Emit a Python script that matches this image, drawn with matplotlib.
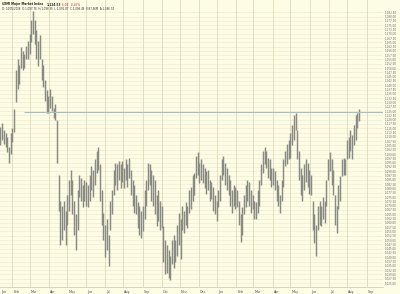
import numpy as np
import pandas as pd
import matplotlib
matplotlib.use('Agg')
import matplotlib.pyplot as plt

# $XMI bars, one bar per two trading days
start_date = '2005-01-12'
axis_end = '2006-09-28'
line_start = '2005-02-18'
line_level = 1124.53

highs = [1116, 1118, 1114, 1112, 1110, 1104, 1112, 1115, 1126, 1149,
         1155, 1152, 1162, 1160, 1158, 1163, 1166, 1170, 1178, 1183,
         1178, 1172, 1166, 1169, 1155, 1152, 1143, 1137, 1134, 1138,
         1134, 1127, 1129, 1120, 1088, 1073, 1070, 1073, 1067, 1076,
         1085, 1091, 1085, 1073, 1065, 1079, 1088, 1086, 1082, 1085,
         1084, 1082, 1088, 1093, 1091, 1097, 1102, 1104, 1094, 1079,
         1066, 1059, 1062, 1053, 1073, 1079, 1091, 1095, 1094, 1096,
         1094, 1096, 1092, 1097, 1094, 1098, 1091, 1085, 1082, 1076,
         1072, 1070, 1067, 1070, 1079, 1085, 1095, 1094, 1091, 1088,
         1085, 1076, 1079, 1073, 1070, 1058, 1050, 1047, 1044, 1041,
         1050, 1053, 1050, 1059, 1066, 1062, 1070, 1067, 1072, 1070,
         1079, 1081, 1088, 1089, 1099, 1101, 1095, 1097, 1094, 1092,
         1090, 1091, 1085, 1084, 1081, 1076, 1073, 1079, 1088, 1097,
         1099, 1095, 1092, 1088, 1085, 1079, 1082, 1081, 1079, 1073,
         1065, 1069, 1076, 1082, 1085, 1084, 1079, 1076, 1073, 1072,
         1079, 1085, 1094, 1102, 1104, 1102, 1098, 1097, 1092, 1092,
         1090, 1085, 1082, 1076, 1085, 1097, 1102, 1106, 1108, 1112,
         1117, 1123, 1124, 1114, 1102, 1092, 1088, 1094, 1097, 1095,
         1091, 1088, 1073, 1065, 1059, 1070, 1073, 1070, 1075, 1073,
         1085, 1097, 1101, 1097, 1091, 1076, 1070, 1082, 1087, 1097,
         1098, 1097, 1108, 1110, 1114, 1111, 1117, 1123, 1124, 1126]

lows = [1105, 1108, 1106, 1104, 1101, 1095, 1100, 1107, 1113, 1130,
        1138, 1141, 1150, 1149, 1150, 1155, 1155, 1158, 1165, 1170,
        1164, 1155, 1151, 1155, 1143, 1139, 1131, 1124, 1124, 1127,
        1125, 1121, 1120, 1095, 1067, 1047, 1050, 1056, 1047, 1059,
        1067, 1076, 1065, 1053, 1044, 1056, 1075, 1073, 1069, 1073,
        1070, 1069, 1073, 1079, 1075, 1082, 1089, 1091, 1073, 1059,
        1050, 1040, 1044, 1035, 1056, 1065, 1076, 1082, 1079, 1085,
        1080, 1084, 1080, 1085, 1081, 1086, 1076, 1070, 1066, 1065,
        1057, 1053, 1051, 1055, 1062, 1070, 1079, 1082, 1073, 1070,
        1065, 1058, 1061, 1056, 1057, 1037, 1030, 1031, 1028, 1027,
        1036, 1034, 1037, 1041, 1047, 1039, 1056, 1054, 1059, 1057,
        1066, 1068, 1073, 1076, 1086, 1088, 1083, 1085, 1083, 1080,
        1077, 1079, 1073, 1074, 1067, 1065, 1061, 1069, 1073, 1085,
        1088, 1082, 1079, 1076, 1070, 1066, 1070, 1068, 1069, 1059,
        1049, 1053, 1065, 1069, 1073, 1070, 1066, 1068, 1062, 1062,
        1066, 1070, 1082, 1089, 1094, 1092, 1086, 1085, 1081, 1082,
        1079, 1073, 1070, 1066, 1073, 1081, 1093, 1094, 1097, 1098,
        1105, 1108, 1114, 1097, 1085, 1076, 1073, 1079, 1084, 1081,
        1077, 1076, 1056, 1048, 1041, 1056, 1059, 1058, 1062, 1060,
        1070, 1085, 1090, 1082, 1076, 1059, 1054, 1068, 1073, 1087,
        1088, 1088, 1097, 1098, 1102, 1097, 1105, 1108, 1115, 1119]

y_ticks = np.arange(1025, 1182.51, 2.5)

bg = '#fdfde6'

days = pd.bdate_range(start_date, axis_end)
bar_x = np.arange(0, 2 * len(highs), 2)

# first trading day of each month -> grid line + label
month_idx = [0] + [i for i in range(1, len(days)) if days[i].month != days[i - 1].month]
month_lab = [days[i].strftime('%b') for i in month_idx]

fig = plt.figure(figsize=(4, 2.94), dpi=100, facecolor=bg)
ax = fig.add_axes([0, 7 / 294, 383 / 400, 287 / 294])
ax.set_facecolor(bg)
ax.set_xlim(-0.5, len(days) - 1)
ax.set_ylim(1022.7, 1189.6)

for v in y_ticks:
    ax.axhline(v, color='#eeecd3', lw=0.5, zorder=0)
for i in month_idx[1:]:
    ax.axvline(i, color='#ddd9bb', lw=0.6, zorder=0)

ax.vlines(bar_x, lows, highs, color='#8a8a84', lw=1.05, zorder=2)

line_x0 = days.get_loc(pd.Timestamp(line_start))
ax.hlines(line_level, line_x0, len(days) - 1, color='#a9bccb', lw=0.8, zorder=3)

ax.yaxis.tick_right()
ax.set_yticks(y_ticks)
ax.set_yticklabels([f'{v:,.2f}' for v in y_ticks], fontsize=2.0, color='#666666')
ax.tick_params(axis='y', length=0, pad=1.5)
ax.set_xticks([])
for s in ax.spines.values():
    s.set_visible(False)
ax.spines['bottom'].set_visible(True)
ax.spines['bottom'].set_color('#c8c6b0')
ax.spines['bottom'].set_linewidth(0.5)

for i, lab in zip(month_idx, month_lab):
    ax.text(i + 1, -0.012, lab, transform=ax.get_xaxis_transform(),
            fontsize=2.4, color='#555555', ha='left', va='top')

# header
fig.text(2 / 400, 1 - 4.5 / 294, '$XMI Major Market Index', fontsize=2.1,
         fontweight='bold', color='#222222', va='center')
fig.text(47 / 400, 1 - 4.5 / 294, '1,124.53', fontsize=2.1,
         fontweight='bold', color='#222222', va='center')
fig.text(62 / 400, 1 - 4.5 / 294, '-5.08', fontsize=2.1,
         color='#d02020', va='center')
fig.text(71 / 400, 1 - 4.5 / 294, '-0.45%', fontsize=2.1,
         color='#d02020', va='center')
fig.text(2 / 400, 1 - 9 / 294,
         'D: 04/05/2006  O:1,097.78  H:1,098.35  L:1,092.87  C:1,098.49  V:87.46M  A:1,096.74',
         fontsize=1.9, color='#333333', va='center')

fig.savefig('out.png', dpi=100, facecolor=bg)
